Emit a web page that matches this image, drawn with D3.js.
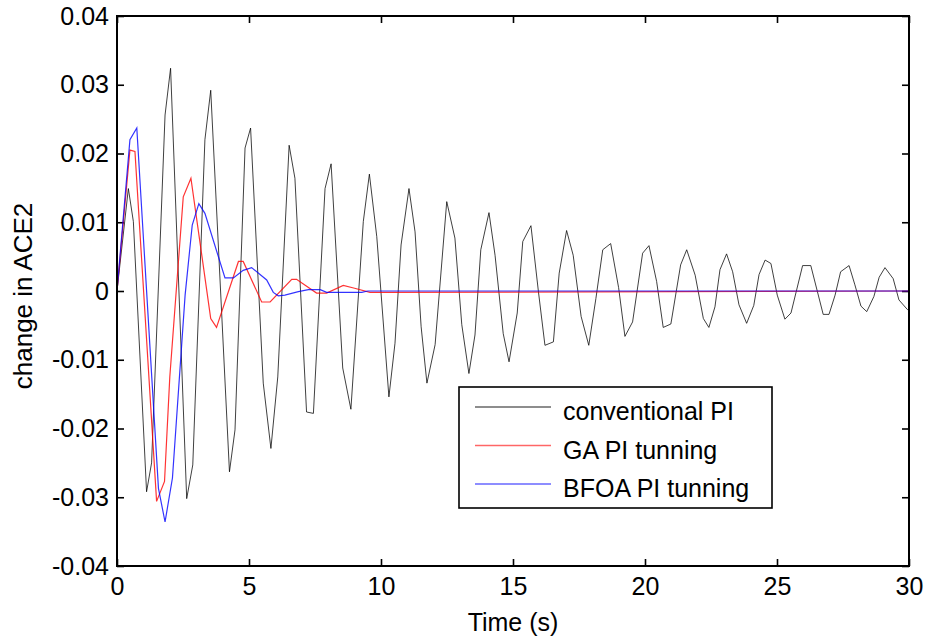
<!DOCTYPE html>
<html>
<head>
<meta charset="utf-8">
<script src="https://cdn.jsdelivr.net/npm/d3@7"></script>
<style>
  body { margin: 0; background: #fff; }
  svg { display: block; font-family: "Liberation Sans", Arial, Helvetica, sans-serif; }
</style>
</head>
<body>
<svg width="926" height="643"></svg>
<script>
// Time samples (s) and change in ACE2
var convTime = [0, 0.43, 0.62, 1.12, 1.31, 1.82, 2.03, 2.64, 2.87, 3.33, 3.55, 4.26, 4.47, 4.85, 5.06,
  5.54, 5.83, 6.09, 6.52, 6.74, 7.18, 7.44, 7.88, 8.11, 8.55, 8.86, 9.33, 9.56, 9.84, 10.3, 10.53,
  10.76, 11.06, 11.29, 11.52, 11.74, 12.05, 12.49, 12.8, 13.06, 13.33, 13.56, 13.78, 14.09, 14.32,
  14.63, 14.85, 15.16, 15.37, 15.68, 15.96, 16.21, 16.53, 16.75, 17.03, 17.28, 17.58, 17.87, 18.14,
  18.4, 18.7, 19.0, 19.24, 19.53, 19.91, 20.15, 20.44, 20.69, 20.98, 21.35, 21.58, 21.9, 22.21,
  22.42, 22.65, 22.84, 23.09, 23.32, 23.56, 23.85, 24.12, 24.32, 24.55, 24.77, 25.01, 25.3, 25.53,
  25.97, 26.28, 26.75, 26.97, 27.2, 27.41, 27.73, 27.95, 28.18, 28.4, 28.67, 28.87, 29.09, 29.4,
  29.62, 29.94, 30];
var convValue = [0, 0.0149, 0.0101, -0.0292, -0.025, 0.0256, 0.0324, -0.0302, -0.0253, 0.022, 0.0292,
  -0.0263, -0.0202, 0.0208, 0.0237, -0.0134, -0.0229, -0.0125, 0.0212, 0.0164, -0.0176, -0.0178,
  0.0149, 0.0185, -0.0112, -0.0172, 0.0101, 0.017, 0.0079, -0.0154, -0.0076, 0.0067, 0.0149, 0.0086,
  -0.0052, -0.0134, -0.0078, 0.013, 0.0077, -0.0049, -0.012, -0.0064, 0.006, 0.0114, 0.0052, -0.0062,
  -0.0103, -0.0032, 0.0072, 0.0095, 0, -0.0079, -0.0074, 0.0026, 0.0088, 0.0052, -0.0037, -0.0079,
  -0.0011, 0.006, 0.0069, 0.0005, -0.0066, -0.0045, 0.0055, 0.0066, 0.0014, -0.0053, -0.0048, 0.0038,
  0.006, 0.0023, -0.004, -0.0053, -0.0023, 0.0031, 0.0054, 0.0028, -0.002, -0.0047, -0.0021, 0.0024,
  0.0045, 0.004, -0.0006, -0.0041, -0.0032, 0.0037, 0.0037, -0.0034, -0.0034, -0.0006, 0.0028, 0.0037,
  0.0009, -0.0022, -0.003, -0.0008, 0.002, 0.0034, 0.0018, -0.0013, -0.0027, -0.0028];

var gaTime = [0, 0.49, 0.68, 1.5, 1.8, 2.0, 2.51, 2.8, 3.55, 3.77, 4.6, 4.78, 5.48, 5.8, 6.62, 6.8,
  7.56, 7.94, 8.57, 9.0, 9.58, 9.96, 30];
var gaValue = [0, 0.0205, 0.0203, -0.0306, -0.0277, -0.0125, 0.0137, 0.0164, -0.004, -0.0053, 0.0043,
  0.0043, -0.0016, -0.0016, 0.0017, 0.0017, -0.0003, -0.0003, 0.0008, 0.0004, -0.0002, -0.0002, 0];

var bfoaTime = [0, 0.49, 0.75, 1.57, 1.82, 2.1, 2.58, 2.85, 3.1, 3.33, 4.09, 4.41, 4.78, 5.1, 5.67,
  5.92, 6.11, 6.36, 6.87, 7.25, 7.7, 7.94, 9.27, 9.5, 30];
var bfoaValue = [0, 0.022, 0.0237, -0.0287, -0.0336, -0.0272, -0.0006, 0.0096, 0.0127, 0.0113, 0.0019,
  0.0019, 0.003, 0.0034, 0.0016, -0.0002, -0.0007, -0.0006, -0.0001, 0.0002, 0.0002, -0.0002, -0.0002,
  0, 0];

var seriesNames = ['conventional PI', 'GA PI tunning', 'BFOA PI tunning'];
var seriesColors = ['#000000', '#ff0000', '#0000ff'];

var xTicks = [0, 5, 10, 15, 20, 25, 30];
var yTicks = [-0.04, -0.03, -0.02, -0.01, 0, 0.01, 0.02, 0.03, 0.04];

// plot box (note: "top" is taken by window.top, so use other names)
var boxLeft = 117, boxRight = 909, boxTop = 16, boxBottom = 566;

var svg = d3.select('svg');

var x = d3.scaleLinear().domain([0, 30]).range([boxLeft, boxRight]);
var y = d3.scaleLinear().domain([-0.04, 0.04]).range([boxBottom, boxTop]);

function yFmt(d) {
  if (d === 0) return '0';
  return (d < 0 ? '-' : '') + Math.abs(d).toFixed(2);
}

// axes, ticks pointing inward like matlab
svg.append('g')
   .attr('transform', 'translate(0,' + boxBottom + ')')
   .call(d3.axisBottom(x).tickValues(xTicks).tickSizeInner(-7).tickSizeOuter(0).tickPadding(11))
   .call(function(g) { g.select('.domain').remove(); })
   .selectAll('text').style('font-size', '25px').attr('fill', '#000');

svg.append('g')
   .attr('transform', 'translate(' + boxLeft + ',0)')
   .call(d3.axisLeft(y).tickValues(yTicks).tickFormat(yFmt).tickSizeInner(-7).tickSizeOuter(0).tickPadding(8))
   .call(function(g) { g.select('.domain').remove(); })
   .selectAll('text').style('font-size', '25px').attr('fill', '#000');

svg.append('g')
   .attr('transform', 'translate(0,' + boxTop + ')')
   .call(d3.axisTop(x).tickValues(xTicks).tickSizeInner(-7).tickSizeOuter(0).tickFormat(''))
   .call(function(g) { g.select('.domain').remove(); });

svg.append('g')
   .attr('transform', 'translate(' + boxRight + ',0)')
   .call(d3.axisRight(y).tickValues(yTicks).tickSizeInner(-7).tickSizeOuter(0).tickFormat(''))
   .call(function(g) { g.select('.domain').remove(); });

svg.selectAll('.tick line').attr('stroke', '#000').attr('stroke-width', 1.6);

// lines
var line = d3.line()
   .x(function(d) { return x(d[0]); })
   .y(function(d) { return y(d[1]); });

var series = [
  d3.zip(convTime, convValue),
  d3.zip(gaTime, gaValue),
  d3.zip(bfoaTime, bfoaValue)
];

svg.selectAll('path.series')
   .data(series)
   .enter()
   .append('path')
   .attr('class', 'series')
   .attr('d', line)
   .attr('fill', 'none')
   .attr('stroke', function(d, i) { return seriesColors[i]; })
   .attr('stroke-opacity', function(d, i) { return i === 0 ? 0.75 : 0.8; })
   .attr('stroke-width', function(d, i) { return i === 0 ? 1 : 1.2; });

// frame
svg.append('rect')
   .attr('x', boxLeft).attr('y', boxTop)
   .attr('width', boxRight - boxLeft).attr('height', boxBottom - boxTop)
   .attr('fill', 'none')
   .attr('stroke', '#000')
   .attr('stroke-width', 2);

// axis labels
svg.append('text')
   .attr('x', (boxLeft + boxRight) / 2)
   .attr('y', 631)
   .attr('text-anchor', 'middle')
   .style('font-size', '25px')
   .text('Time (s)');

svg.append('text')
   .attr('transform', 'translate(32,296) rotate(-90)')
   .attr('text-anchor', 'middle')
   .style('font-size', '26px')
   .text('change in ACE2');

// legend
svg.append('rect')
   .attr('x', 459).attr('y', 387)
   .attr('width', 313).attr('height', 121)
   .attr('fill', '#fff')
   .attr('stroke', '#000')
   .attr('stroke-width', 1.6);

svg.selectAll('line.key')
   .data(seriesColors)
   .enter()
   .append('line')
   .attr('class', 'key')
   .attr('x1', 475).attr('x2', 551)
   .attr('y1', function(d, i) { return 407 + i * 38.5; })
   .attr('y2', function(d, i) { return 407 + i * 38.5; })
   .attr('stroke', function(d) { return d; })
   .attr('stroke-opacity', 0.6)
   .attr('stroke-width', 1.5);

svg.selectAll('text.key')
   .data(seriesNames)
   .enter()
   .append('text')
   .attr('class', 'key')
   .attr('x', 563)
   .attr('y', function(d, i) { return 420 + i * 38.5; })
   .style('font-size', '25px')
   .text(function(d) { return d; });
</script>
</body>
</html>
